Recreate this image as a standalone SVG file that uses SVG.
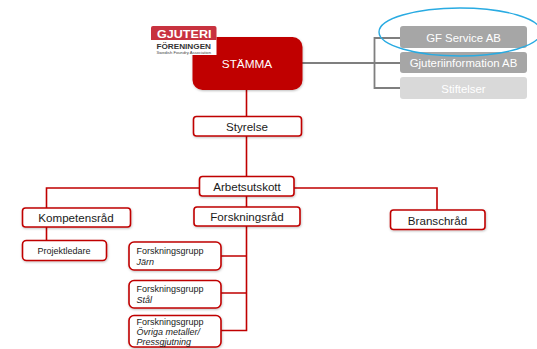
<svg xmlns="http://www.w3.org/2000/svg" width="537" height="349" viewBox="0 0 537 349">
<style>
text{font-family:"Liberation Sans",Arial,sans-serif;fill:#1a1a1a}
.c{text-anchor:middle}
.b{fill:#fff;stroke:#c00000;stroke-width:1.6}
.r{fill:none;stroke:#c00000;stroke-width:1.6}
.g{fill:none;stroke:#7f7f7f;stroke-width:1.8}
.n{font-size:11.600px}
.s{font-size:9px}
.i{font-style:italic}
.w{font-size:11.400px;fill:#fff}
</style>
<defs><filter id="sh" x="-10%" y="-20%" width="120%" height="140%"><feDropShadow dx="0.5" dy="1" stdDeviation="0.8" flood-color="#000" flood-opacity="0.25"/></filter></defs>
<g id="connectors">
<path class="r" d="M246.500 90V330.500H221M221 256H246.500M221 293H246.500M199 188H46.500V208M46.500 227V240M294 188H437V210"/>
<path class="g" d="M302 63H400M400 38H374.500V88H400"/>
</g>
<g id="stamma"><rect x="192.500" y="37" width="110" height="53" rx="10" fill="#c00000" filter="url(#sh)"/><text class="c" x="247" y="67.500" font-size="11.800" style="fill:#fff">STÄMMA</text></g>
<g id="logo">
<rect x="151" y="26" width="65.500" height="29" fill="#fff"/>
<path d="M151 40V28Q151 26 153 26H214.500Q216.500 26 216.500 28V40Z" fill="#c8323f"/>
<text x="157" y="38" font-size="11" font-weight="bold" textLength="54.500" lengthAdjust="spacingAndGlyphs" style="fill:#fff">GJUTERI</text>
<text x="156.500" y="49" font-size="6.800" font-weight="bold" textLength="54.500" lengthAdjust="spacingAndGlyphs" style="fill:#333">FÖRENINGEN</text>
<text x="156.500" y="53.500" font-size="3" textLength="54.500" lengthAdjust="spacingAndGlyphs" style="fill:#444">Swedish Foundry Association</text>
</g>
<g id="gf-service"><rect x="400" y="26" width="127" height="22" rx="3" fill="#a6a6a6"/><text class="c w" x="463.500" y="41.500">GF Service AB</text></g>
<g id="gjuteriinformation"><rect x="400" y="52" width="127" height="21" rx="3" fill="#a6a6a6"/><text class="c w" x="463.500" y="67">Gjuteriinformation AB</text></g>
<g id="stiftelser"><rect x="400" y="77" width="127" height="22" rx="3" fill="#d9d9d9"/><text class="c w" x="463.500" y="92.500">Stiftelser</text></g>
<g id="styrelse"><rect class="b" x="193.500" y="116.500" width="108" height="19.500" rx="3" filter="url(#sh)"/><text class="c n" x="247" y="131">Styrelse</text></g>
<g id="arbetsutskott"><rect class="b" x="199.500" y="176.500" width="94.500" height="19.500" rx="3" filter="url(#sh)"/><text class="c n" x="247" y="191">Arbetsutskott</text></g>
<g id="forskningsrad"><rect class="b" x="194" y="207" width="106" height="19" rx="3" filter="url(#sh)"/><text class="c n" x="247" y="221">Forskningsråd</text></g>
<g id="kompetensrad"><rect class="b" x="22.500" y="208" width="108" height="19" rx="3" filter="url(#sh)"/><text class="c n" x="76" y="222">Kompetensråd</text></g>
<g id="branschrad"><rect class="b" x="390.500" y="210" width="94.500" height="19.500" rx="3" filter="url(#sh)"/><text class="c n" x="437.500" y="224.500">Branschråd</text></g>
<g id="projektledare"><rect class="b" x="22.500" y="240.500" width="84" height="20" rx="4" filter="url(#sh)"/><text class="c s" x="64" y="254">Projektledare</text></g>
<g id="fg-jarn"><rect class="b" x="129" y="242" width="92" height="28" rx="5" filter="url(#sh)"/><text class="s" x="136.500" y="254">Forskningsgrupp</text><text class="s i" x="136.500" y="264.500">Järn</text></g>
<g id="fg-stal"><rect class="b" x="129" y="280.500" width="92" height="27.500" rx="5" filter="url(#sh)"/><text class="s" x="136.500" y="292">Forskningsgrupp</text><text class="s i" x="136.500" y="303">Stål</text></g>
<g id="fg-ovriga"><rect class="b" x="129" y="315.500" width="92" height="31.500" rx="5" filter="url(#sh)"/><text class="s" x="136.500" y="325">Forskningsgrupp</text><text class="s i" x="136.500" y="335">Övriga metaller/</text><text class="s i" x="136.500" y="345">Pressgjutning</text></g>
<ellipse id="highlight" cx="460" cy="32" rx="81" ry="24" fill="none" stroke="#29abe2" stroke-width="1.400"/>
</svg>
